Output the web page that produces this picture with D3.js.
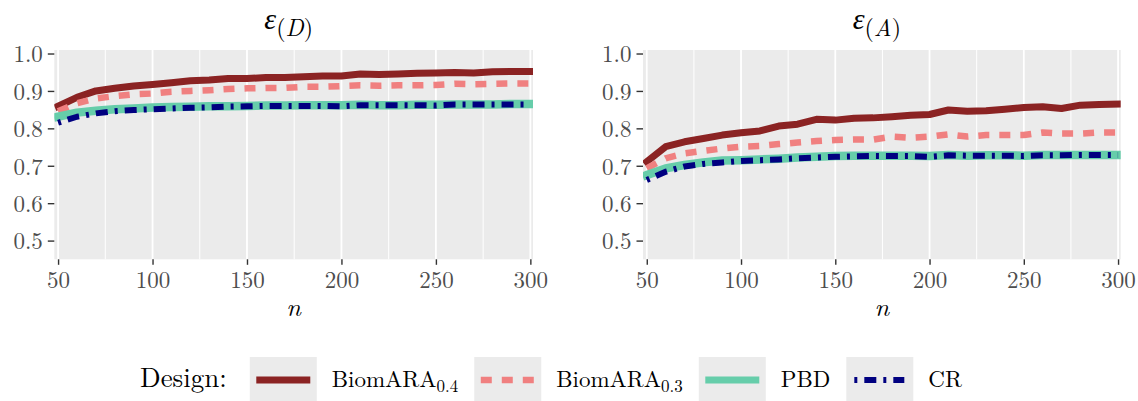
<!DOCTYPE html>
<html>
<head>
<meta charset="utf-8">
<script src="https://cdn.jsdelivr.net/npm/d3@7"></script>
<style>
  body { margin: 0; background: #fff; }
  svg { display: block; }
</style>
</head>
<body>
<svg id="chart" width="1138" height="401"></svg>
<script>
// sample sizes on the x axis
const nValues = [50, 60, 70, 80, 90, 100, 110, 120, 130, 140, 150, 160, 170, 180, 190, 200, 210, 220, 230, 240, 250, 260, 270, 280, 290, 300];
const xTicks = [50, 100, 150, 200, 250, 300];
const yTicks = [0.5, 0.6, 0.7, 0.8, 0.9, 1.0];

// efficiency, D-criterion
const dBiom04 = [0.859, 0.883, 0.900, 0.907, 0.913, 0.917, 0.922, 0.927, 0.929, 0.933, 0.933, 0.936, 0.936, 0.938, 0.940, 0.940, 0.945, 0.944, 0.945, 0.947, 0.948, 0.949, 0.948, 0.951, 0.952, 0.952];
const dBiom03 = [0.846, 0.867, 0.880, 0.886, 0.891, 0.893, 0.898, 0.900, 0.902, 0.905, 0.907, 0.908, 0.908, 0.911, 0.911, 0.913, 0.915, 0.914, 0.915, 0.915, 0.916, 0.919, 0.918, 0.919, 0.920, 0.920];
const dPBD = [0.831, 0.842, 0.847, 0.851, 0.853, 0.856, 0.857, 0.858, 0.859, 0.859, 0.860, 0.861, 0.861, 0.862, 0.862, 0.862, 0.863, 0.862, 0.862, 0.863, 0.863, 0.864, 0.864, 0.864, 0.865, 0.865];
const dCR = [0.815, 0.831, 0.840, 0.846, 0.849, 0.851, 0.853, 0.855, 0.856, 0.858, 0.859, 0.860, 0.860, 0.860, 0.860, 0.859, 0.862, 0.862, 0.862, 0.862, 0.861, 0.864, 0.864, 0.864, 0.864, 0.864];

// efficiency, A-criterion
const aBiom04 = [0.711, 0.751, 0.764, 0.773, 0.782, 0.788, 0.793, 0.806, 0.811, 0.824, 0.822, 0.827, 0.828, 0.831, 0.835, 0.837, 0.849, 0.846, 0.847, 0.851, 0.856, 0.858, 0.853, 0.862, 0.864, 0.865];
const aBiom03 = [0.693, 0.720, 0.733, 0.740, 0.746, 0.751, 0.753, 0.758, 0.762, 0.766, 0.769, 0.770, 0.770, 0.778, 0.775, 0.778, 0.784, 0.778, 0.782, 0.782, 0.782, 0.789, 0.786, 0.786, 0.789, 0.789];
const aPBD = [0.675, 0.693, 0.702, 0.709, 0.714, 0.715, 0.717, 0.719, 0.722, 0.724, 0.726, 0.727, 0.727, 0.727, 0.727, 0.726, 0.729, 0.727, 0.728, 0.728, 0.727, 0.729, 0.729, 0.729, 0.729, 0.729];
const aCR = [0.662, 0.684, 0.698, 0.705, 0.709, 0.713, 0.715, 0.717, 0.720, 0.722, 0.724, 0.725, 0.726, 0.726, 0.726, 0.724, 0.728, 0.727, 0.727, 0.727, 0.726, 0.728, 0.728, 0.729, 0.729, 0.729];

const designs = ["BiomARA", "BiomARA", "PBD", "CR"];
const designSubs = ["0.4", "0.3", "", ""];

const FONT = "Latin Modern Roman, Liberation Serif, serif";

let styles = [
  {color: "#8b2323", width: 7, dash: null, cap: "square"},
  {color: "#f08080", width: 6.5, dash: "11,10", cap: "butt"},
  {color: "#66cdaa", width: 8.5, dash: null, cap: "square"},
  {color: "#000080", width: 6, dash: "3,7,12,7", cap: "butt"}
];

let panels = [
  {sub: "D", left: 54.3, right: 533, series: [dBiom04, dBiom03, dPBD, dCR]},
  {sub: "A", left: 643, right: 1120.7, series: [aBiom04, aBiom03, aPBD, aCR]}
];

let svg = d3.select("#chart").attr("font-family", FONT);
let panelTop = 50, panelBottom = 259.3;

let y = d3.scaleLinear().domain([0.45, 1.0094]).range([panelBottom, panelTop]);

panels.forEach(function (p, pi) {
  let x = d3.scaleLinear().domain([48, 301.4]).range([p.left, p.right]);
  let g = svg.append("g");

  g.append("rect")
    .attr("x", p.left).attr("y", panelTop)
    .attr("width", p.right - p.left).attr("height", panelBottom - panelTop)
    .attr("fill", "#ebebeb");

  // minor then major vertical grid, no horizontal grid
  g.selectAll(".minor")
    .data([75, 125, 175, 225, 275])
    .enter().append("line")
    .attr("x1", d => x(d)).attr("x2", d => x(d))
    .attr("y1", panelTop).attr("y2", panelBottom)
    .attr("stroke", "#fff").attr("stroke-width", 1);
  g.selectAll(".major")
    .data(xTicks)
    .enter().append("line")
    .attr("x1", d => x(d)).attr("x2", d => x(d))
    .attr("y1", panelTop).attr("y2", panelBottom)
    .attr("stroke", "#fff").attr("stroke-width", 1.8);

  let clipId = "clip" + pi;
  svg.append("clipPath").attr("id", clipId)
    .append("rect")
    .attr("x", p.left).attr("y", panelTop)
    .attr("width", p.right - p.left).attr("height", panelBottom - panelTop);

  let line = d3.line()
    .x((d, i) => x(nValues[i]))
    .y(d => y(d));

  let lines = g.append("g").attr("clip-path", "url(#" + clipId + ")");
  p.series.forEach(function (s, si) {
    let st = styles[si];
    lines.append("path")
      .datum(s)
      .attr("d", line)
      .attr("fill", "none")
      .attr("stroke", st.color)
      .attr("stroke-width", st.width)
      .attr("stroke-linecap", st.cap)
      .attr("stroke-linejoin", "round")
      .attr("stroke-dasharray", st.dash);
  });

  // axes
  let xAxis = g.append("g")
    .attr("transform", "translate(0," + panelBottom + ")")
    .call(d3.axisBottom(x).tickValues(xTicks).tickSize(5.5).tickPadding(7));
  let yAxis = g.append("g")
    .attr("transform", "translate(" + p.left + ",0)")
    .call(d3.axisLeft(y).tickValues(yTicks).tickFormat(d3.format(".1f")).tickSize(6.5).tickPadding(5));

  [xAxis, yAxis].forEach(function (a) {
    a.attr("font-family", FONT).attr("font-size", 23);
    a.select(".domain").remove();
    a.selectAll(".tick line").attr("stroke", "#333").attr("stroke-width", 1.4);
    a.selectAll(".tick text").attr("fill", "#4d4d4d");
  });
  yAxis.selectAll(".tick text").attr("dy", "0.36em");

  // title: epsilon with subscript
  let cx = (p.left + p.right) / 2 - 5;
  let title = g.append("text")
    .attr("x", cx).attr("y", 29)
    .attr("text-anchor", "middle")
    .attr("fill", "#000");
  title.append("tspan")
    .attr("font-family", "Liberation Serif, serif")
    .attr("font-style", "italic").attr("font-size", 30).text("ε");
  title.append("tspan").attr("font-size", 24).attr("dy", 7).text("(");
  title.append("tspan").attr("font-size", 24).attr("font-style", "italic").text(p.sub);
  title.append("tspan").attr("font-size", 24).text(")");

  g.append("text")
    .attr("x", (p.left + p.right) / 2).attr("y", 316)
    .attr("text-anchor", "middle")
    .attr("font-style", "italic")
    .attr("font-size", 26)
    .text("n");
});

// legend
let legend = svg.append("g");
let lx = 140;
let base = 387;
let head = legend.append("text")
  .attr("x", lx).attr("y", base)
  .attr("font-size", 27)
  .text("Design:");
lx += head.node().getComputedTextLength() + 23;

designs.forEach(function (name, i) {
  let st = styles[i];
  legend.append("rect")
    .attr("x", lx).attr("y", 357)
    .attr("width", 67).attr("height", 46)
    .attr("fill", "#ebebeb");
  let x0 = lx + 6.5, x1 = lx + 60.5;
  if (i == 3) { x0 = lx + 8; x1 = lx + 58; }
  legend.append("line")
    .attr("x1", x0).attr("x2", x1)
    .attr("y1", 380).attr("y2", 380)
    .attr("stroke", st.color)
    .attr("stroke-width", Math.min(st.width, 7))
    .attr("stroke-dasharray", st.dash);
  lx += 67 + 15;
  let t = legend.append("text")
    .attr("x", lx).attr("y", base)
    .attr("font-size", 23)
    .text(name);
  if (designSubs[i] != "") {
    t.append("tspan")
      .attr("font-size", 17)
      .attr("dy", 5)
      .text(designSubs[i]);
  }
  lx += t.node().getComputedTextLength() + 16;
});
</script>
</body>
</html>
